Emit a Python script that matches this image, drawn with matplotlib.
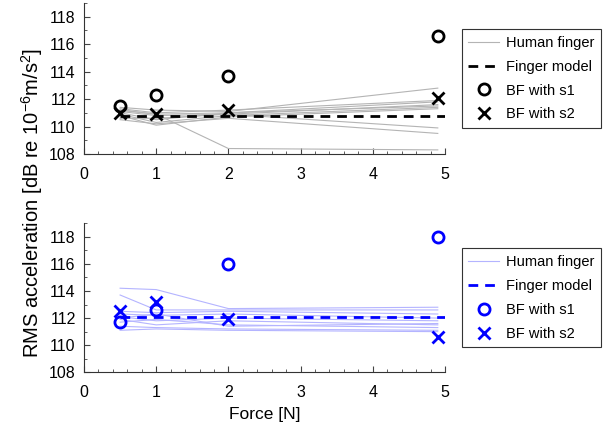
import numpy as np
import matplotlib.pyplot as plt
from matplotlib.ticker import MultipleLocator

plt.rcParams['font.family'] = ['Liberation Sans', 'DejaVu Sans']
plt.rcParams['mathtext.fontset'] = 'custom'
plt.rcParams['mathtext.rm'] = 'Liberation Sans'

force = [0.5, 1, 2, 4.9]

# top panel (black)
human_top = [
    [111.4, 111.2, 111.1, 112.8],
    [111.3, 111.0, 111.2, 111.9],
    [111.2, 110.9, 111.0, 111.8],
    [111.1, 110.8, 110.9, 111.6],
    [111.0, 110.5, 111.0, 111.5],
    [110.9, 110.3, 110.8, 111.4],
    [110.8, 110.1, 110.7, 111.3],
    [110.6, 110.6, 110.9, 109.9],
    [110.5, 110.2, 110.6, 109.5],
    [111.2, 110.9, 108.4, 108.3],
]
model_top = 110.8
s1_top = [111.5, 112.3, 113.7, 116.6]
s2_top = [111.0, 110.9, 111.2, 112.1]

# bottom panel (blue)
human_bot = [
    [114.2, 114.1, 112.7, 112.8],
    [113.7, 112.6, 112.6, 112.6],
    [112.5, 112.4, 112.5, 112.3],
    [112.3, 112.2, 112.3, 112.0],
    [112.1, 111.8, 112.0, 111.8],
    [111.9, 111.5, 111.8, 111.5],
    [111.7, 111.9, 111.5, 111.3],
    [111.4, 111.3, 111.2, 111.1],
    [111.1, 111.2, 111.1, 111.0],
    [112.0, 112.3, 111.4, 111.6],
]
model_bot = 112.05
s1_bot = [111.7, 112.6, 116.0, 118.0]
s2_bot = [112.5, 113.2, 111.9, 110.6]

fig = plt.figure(figsize=(6.15, 4.29), dpi=100)
ax1 = fig.add_axes([0.1366, 0.641, 0.587, 0.352])
ax2 = fig.add_axes([0.1366, 0.132, 0.587, 0.348])


def draw(ax, human, model, s1, s2, col, light, leg_top):
    for i, h in enumerate(human):
        ax.plot(force, h, color=light, lw=0.8,
                label='Human finger' if i == 0 else None)
    ax.plot([0.5, 5], [model, model], '--', color=col, lw=2,
            dashes=(3.5, 2.5), label='Finger model')
    ax.plot(force, s1, 'o', mfc='none', mec=col, mew=2, ms=8,
            label='BF with s1')
    ax.plot(force, s2, 'x', color=col, mew=2, ms=9, label='BF with s2')
    ax.set_xlim(0, 5)
    ax.set_ylim(108, 119)
    ax.set_yticks([108, 110, 112, 114, 116, 118])
    ax.xaxis.set_minor_locator(MultipleLocator(0.2))
    ax.yaxis.set_minor_locator(MultipleLocator(1))
    ax.tick_params(direction='in', labelsize=11.5, length=4, color='#444444')
    ax.tick_params(which='minor', direction='in', length=2, color='#444444')
    ax.tick_params(axis='x', pad=9)
    ax.tick_params(axis='y', pad=6)
    ax.spines['top'].set_visible(False)
    ax.spines['right'].set_visible(False)
    for s in ('left', 'bottom'):
        ax.spines[s].set_color('#333333')
    leg = ax.legend(loc='upper left', bbox_to_anchor=(0.751, leg_top),
                    bbox_transform=fig.transFigure, borderaxespad=0,
                    fancybox=False, edgecolor='#333333', fontsize=10.5,
                    handlelength=2.1, handletextpad=0.5, framealpha=1,
                    borderpad=0.45, labelspacing=0.68)
    leg.get_frame().set_linewidth(0.8)


draw(ax1, human_top, model_top, s1_top, s2_top, 'black', '#b4b4b4', 0.932)
draw(ax2, human_bot, model_bot, s1_bot, s2_bot, 'blue', '#b4b4ff', 0.421)

ax2.set_xlabel('Force [N]', fontsize=12.5, labelpad=5)
fig.text(0.052, 0.527, 'RMS acceleration [dB re 10$^{-6}$m/s$^2$]',
         rotation=90, ha='center', va='center', fontsize=14.5)

fig.savefig('out.png', dpi=100)
